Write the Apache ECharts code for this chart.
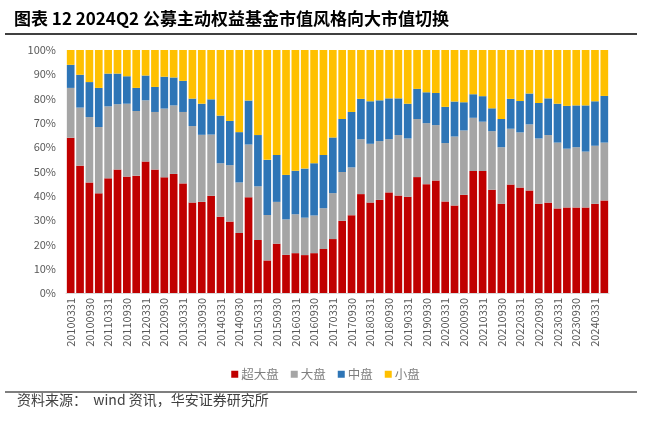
<!DOCTYPE html>
<html><head><meta charset="utf-8">
<script src="https://cdn.jsdelivr.net/npm/echarts@6/dist/echarts.min.js"></script>
<style>html,body{margin:0;padding:0;background:#fff}#c{width:651px;height:427px}</style>
</head><body><div id="c"></div>
<script>
const categories = ["20100331","20100630","20100930","20101231","20110331","20110630","20110930","20111231",
"20120331","20120630","20120930","20121231","20130331","20130630","20130930","20131231",
"20140331","20140630","20140930","20141231","20150331","20150630","20150930","20151231",
"20160331","20160630","20160930","20161231","20170331","20170630","20170930","20171231",
"20180331","20180630","20180930","20181231","20190331","20190630","20190930","20191231",
"20200331","20200630","20200930","20201231","20210331","20210630","20210930","20211231",
"20220331","20220630","20220930","20221231","20230331","20230630","20230930","20231231",
"20240331","20240630"];
const superLarge = [63.9,52.4,45.5,41.0,47.2,50.8,47.9,48.3,54.1,50.8,47.6,49.0,45.1,37.2,37.5,40.0,
31.4,29.4,24.7,39.4,21.8,13.4,20.3,15.7,16.4,15.6,16.4,18.1,22.2,29.7,32.0,40.7,
37.2,38.3,41.4,40.1,39.6,47.7,44.8,46.3,37.7,36.0,40.4,50.2,50.2,42.5,36.7,44.6,
43.4,42.2,36.7,37.2,34.8,35.2,35.2,35.2,36.7,38.1];
const large = [20.5,23.9,26.9,27.3,29.6,26.9,30.0,26.6,25.2,23.7,28.3,28.2,29.4,31.5,27.6,25.2,
22.0,23.2,20.8,21.7,22.1,18.7,17.2,14.6,16.0,15.4,15.5,16.8,18.9,20.1,19.7,22.6,
24.2,24.2,21.9,24.9,24.0,23.9,25.1,22.8,24.0,28.4,26.5,21.9,20.3,24.1,23.3,23.0,
22.7,27.2,26.9,27.8,27.1,24.2,24.8,23.0,23.9,23.8];
const mid = [9.5,13.5,14.4,16.1,13.5,12.6,11.3,9.5,10.2,10.3,13.1,11.5,12.8,11.3,12.8,14.5,
19.6,18.2,20.7,18.1,21.1,22.7,19.3,18.3,17.9,20.2,21.5,21.9,22.9,21.8,22.8,16.6,
17.5,16.8,16.8,15.1,14.3,12.4,12.7,13.2,14.9,14.4,11.6,9.7,10.5,9.4,11.6,12.3,
12.9,12.7,14.6,15.1,16.0,17.6,17.2,19.0,18.3,19.2];
const small = [6.1,10.2,13.2,15.6,9.7,9.7,10.8,15.6,10.5,15.2,11.0,11.3,12.7,20.0,22.1,20.3,
27.0,29.2,33.8,20.8,35.0,45.2,43.2,51.4,49.7,48.8,46.6,43.2,36.0,28.4,25.5,20.1,
21.1,20.7,19.9,19.9,22.1,16.0,17.4,17.7,23.4,21.2,21.5,18.2,19.0,24.0,28.4,20.1,
21.0,17.9,21.8,19.9,22.1,23.0,22.8,22.8,21.1,18.9];
const seriesNames = ["超大盘","大盘","中盘","小盘"];
const colors = ["#C00000","#A5A5A5","#2E75B6","#FFC000"];
const titleText = "图表 12 2024Q2 公募主动权益基金市值风格向大市值切换";
const sourceText = "资料来源：  wind 资讯，华安证券研究所";

const font = '"Noto Sans CJK SC","Noto Sans",sans-serif';
const chart = echarts.init(document.getElementById('c'), null, {renderer:'canvas'});
const dataSets = [superLarge, large, mid, small];
chart.setOption({
  animation:false,
  backgroundColor:'#fff',
  textStyle:{fontFamily:font},
  grid:{left:66,right:42,top:50,bottom:134,containLabel:false},
  legend:{
    data:seriesNames, left:'center', top:363, itemWidth:7, itemHeight:7, itemGap:12,
    icon:'rect', textStyle:{color:'#7F7F7F',fontSize:12.5,fontFamily:font,padding:[0,0,0,-2]}
  },
  xAxis:{
    type:'category', data:categories,
    axisLine:{show:true,lineStyle:{color:'#D9D9D9'}},
    axisTick:{show:false},
    axisLabel:{interval:1,rotate:90,color:'#595959',fontSize:11,margin:5,fontFamily:font}
  },
  yAxis:{
    type:'value', min:0, max:100, interval:10,
    axisLine:{show:false}, axisTick:{show:false}, splitLine:{show:false},
    axisLabel:{formatter:'{value}%',color:'#595959',fontSize:11,margin:10,fontFamily:font}
  },
  series: seriesNames.map((n,k)=>({
    name:n, type:'bar', stack:'total', data:dataSets[k],
    barCategoryGap:'18%', itemStyle:{color:colors[k]}
  })),
  graphic:[
    {type:'text',left:14,top:10,style:{text:titleText,font:'bold 17px '+font,fill:'#000'}},
    {type:'line',shape:{x1:5,y1:34,x2:637,y2:34},style:{stroke:'#000',lineWidth:1.5}},
    {type:'line',shape:{x1:5,y1:392,x2:637,y2:392},style:{stroke:'#000',lineWidth:1.2}},
    {type:'text',left:17,top:393,style:{text:sourceText,font:'14px '+font,fill:'#404040'}}
  ]
});
</script></body></html>
